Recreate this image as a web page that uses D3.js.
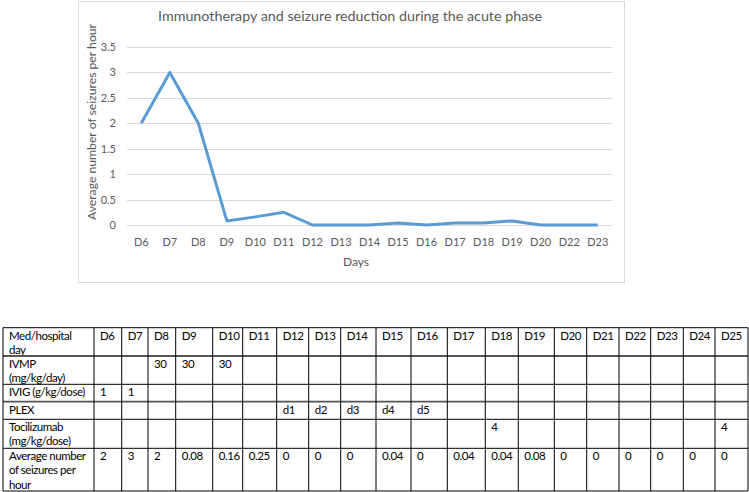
<!DOCTYPE html>
<html><head><meta charset="utf-8">
<script src="https://cdn.jsdelivr.net/npm/d3@7"></script>
<style>
html,body{margin:0;padding:0;background:#fff;}
svg{display:block;font-family:Lato,"Open Sans",sans-serif;}
</style></head>
<body>
<svg id="c" width="749" height="492"></svg>
<script>
// ---- chart data ----
const chartDays = ["D6","D7","D8","D9","D10","D11","D12","D13","D14","D15","D16","D17","D18","D19","D20","D22","D23"];
const chartValues = [2,3,2,0.08,0.16,0.25,0,0,0,0.04,0,0.04,0.04,0.08,0,0,0];
const yTicks = [0,0.5,1,1.5,2,2.5,3,3.5];
const chartTitle = "Immunotherapy and seizure reduction during the acute phase";
const xTitle = "Days";
const yTitle = "Average number of seizures per hour";

// ---- table data ----
const tableDays = ["D6","D7","D8","D9","D10","D11","D12","D13","D14","D15","D16","D17","D18","D19","D20","D21","D22","D23","D24","D25"];
const rowLabels = [["Med/hospital","day"],["IVMP","(mg/kg/day)"],["IVIG (g/kg/dose)"],["PLEX"],["Tocilizumab","(mg/kg/dose)"],["Average number","of seizures per","hour"]];
const ivmp = ["","","30","30","30","","","","","","","","","","","","","","",""];
const ivig = ["1","1","","","","","","","","","","","","","","","","","",""];
const plex = ["","","","","","","d1","d2","d3","d4","d5","","","","","","","","",""];
const tocilizumab = ["","","","","","","","","","","","","4","","","","","","","4"];
const avgSeizures = ["2","3","2","0.08","0.16","0.25","0","0","0","0.04","0","0.04","0.04","0.08","0","0","0","0","0","0"];

const svg = d3.select("#c");
const grey = "#595959";
const font = "Lato,'Open Sans',sans-serif";

// chart frame
svg.append("rect").attr("x",78.5).attr("y",1.5).attr("width",546).attr("height",281)
  .attr("fill","#fff").attr("stroke","#d9d9d9").attr("stroke-width",1);

const x = d3.scaleBand().domain(chartDays).range([127,612]);
const y = d3.scaleLinear().domain([0,3.5]).range([225,47]);

// gridlines
svg.append("g").selectAll("line").data(yTicks).join("line")
  .attr("x1",127).attr("x2",612)
  .attr("y1",d=>Math.round(y(d))+0.5).attr("y2",d=>Math.round(y(d))+0.5)
  .attr("stroke","#d9d9d9").attr("stroke-width",1);

// y axis labels
const yAxis = d3.axisLeft(y).tickValues(yTicks).tickSize(0).tickPadding(0).tickFormat(d=>String(d));
const gy = svg.append("g").attr("transform","translate(116,0)").call(yAxis);
gy.select(".domain").remove();
gy.selectAll("text").attr("fill",grey).style("font-size","11px").style("font-family",font);

// x axis labels
const xAxis = d3.axisBottom(x).tickSize(0).tickPadding(0);
const gx = svg.append("g").attr("transform","translate(0,238)").call(xAxis);
gx.select(".domain").remove();
gx.selectAll("text").attr("fill",grey).style("font-size","11px").style("font-family",font);

// line
const line = d3.line().x((d,i)=>x(chartDays[i])+x.bandwidth()/2).y(d=>y(d));
svg.append("path").datum(chartValues).attr("d",line)
  .attr("fill","none").attr("stroke","#5b9bd5").attr("stroke-width",3).attr("stroke-linejoin","round");

// titles
svg.append("text").attr("x",350).attr("y",21).attr("text-anchor","middle")
  .attr("fill",grey).style("font-size","14.3px").style("font-family",font).text(chartTitle);
svg.append("text").attr("x",356).attr("y",266).attr("text-anchor","middle")
  .attr("fill",grey).style("font-size","12px").style("font-family",font).text(xTitle);
svg.append("text").attr("transform","translate(96,122) rotate(-90)").attr("text-anchor","middle")
  .attr("fill",grey).style("font-size","12.2px").style("font-family",font).text(yTitle);

// ---- table ----
const colX = [3,94,121.7,148,175.7,212.7,242.7,276.7,308.7,340.7,376,411,447.3,485.3,518.3,554.3,586.7,619,650.7,683.3,715,748];
const rowY = [327.7,356,384.3,401.7,419.3,448.3,491];
const rows = [tableDays, ivmp, ivig, plex, tocilizumab, avgSeizures];
const pad = 6;

const tg = svg.append("g").style("font-family",font).style("font-size","11.5px").style("letter-spacing","-0.45px");
// row labels
rowLabels.forEach((lines,r)=>{
  const t = tg.append("text").attr("x",colX[0]+pad).attr("y",rowY[r]+11.8).attr("fill","#000");
  lines.forEach((s,i)=>t.append("tspan").attr("x",colX[0]+pad).attr("dy",i===0?0:14.3).text(s));
});
// cells
rows.forEach((vals,r)=>{
  tg.selectAll(null).data(vals).join("text")
    .attr("x",(d,i)=>colX[i+1]+pad).attr("y",rowY[r]+11.8).attr("fill","#000").text(d=>d);
});
// grid lines
const thickRows = [1,3];
rowY.forEach((yy,i)=>{
  tg.append("line").attr("x1",colX[0]).attr("x2",colX[colX.length-1])
    .attr("y1",yy).attr("y2",yy)
    .attr("stroke",thickRows.includes(i)?"#555":"#000").attr("stroke-width",thickRows.includes(i)?1.8:1);
});
colX.forEach((xx,i)=>{
  tg.append("line").attr("x1",xx).attr("x2",xx).attr("y1",rowY[0]).attr("y2",rowY[rowY.length-1])
    .attr("stroke","#000").attr("stroke-width",1);
});
</script>
</body></html>
